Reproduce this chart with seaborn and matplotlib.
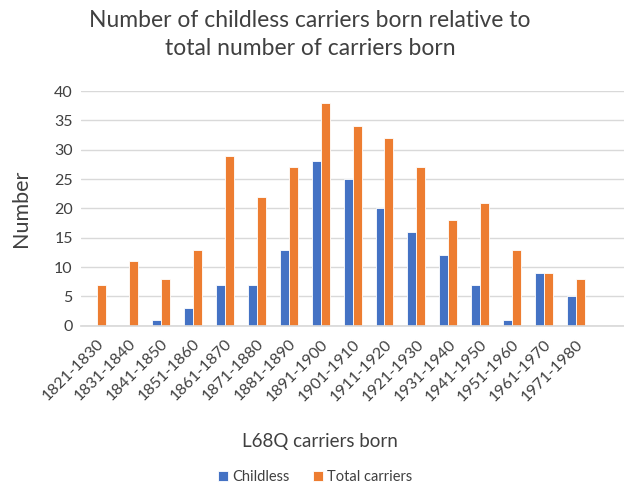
import matplotlib
matplotlib.use("Agg")
import matplotlib.pyplot as plt
import seaborn as sns
import pandas as pd

categories = ["1821-1830", "1831-1840", "1841-1850", "1851-1860", "1861-1870",
              "1871-1880", "1881-1890", "1891-1900", "1901-1910", "1911-1920",
              "1921-1930", "1931-1940", "1941-1950", "1951-1960", "1961-1970",
              "1971-1980"]
childless = [0, 0, 1, 3, 7, 7, 13, 28, 25, 20, 16, 12, 7, 1, 9, 5]
total_carriers = [7, 11, 8, 13, 29, 22, 27, 38, 34, 32, 27, 18, 21, 13, 9, 8]
series_names = ["Childless", "Total carriers"]
yticks = [0, 5, 10, 15, 20, 25, 30, 35, 40]

df = pd.DataFrame({
    "period": categories * 2,
    "value": childless + total_carriers,
    "series": [series_names[0]] * len(categories) + [series_names[1]] * len(categories),
})

sns.set_theme(style="white")
plt.rcParams["font.family"] = ["Lato", "DejaVu Sans"]

fig = plt.figure(figsize=(6.24, 4.87), dpi=100)
ax = fig.add_axes([0.130, 0.331, 0.870, 0.482])

sns.barplot(data=df, x="period", y="value", hue="series", order=categories,
            palette=["#4472C4", "#ED7D31"], saturation=1, width=0.56, dodge=True,
            edgecolor="white", linewidth=0.6, ax=ax, legend=True)

ax.set_xlim(-0.5, len(categories) + 0.5)
ax.set_ylim(0, 40)
ax.set_yticks(yticks)
ax.yaxis.grid(True, color="#d9d9d9", linewidth=1.0)
ax.set_axisbelow(True)
for s in ["top", "right", "left"]:
    ax.spines[s].set_visible(False)
ax.spines["bottom"].set_color("#d9d9d9")
ax.tick_params(axis="both", length=0, labelsize=11.5, colors="#404040", pad=6)
ax.tick_params(axis="x", pad=8)
plt.setp(ax.get_xticklabels(), rotation=45, ha="right", rotation_mode="anchor")

ax.set_ylabel("Number", fontsize=15.5, color="#404040")
ax.yaxis.set_label_coords(-0.093, 0.5)
ax.set_xlabel("L68Q carriers born", fontsize=13.5, color="#404040")
ax.xaxis.set_label_coords(0.44, -0.455)
fig.text(0.497, 0.98, "Number of childless carriers born relative to\ntotal number of carriers born",
         ha="center", va="top", fontsize=16.5, color="#404040", linespacing=1.4)

ax.get_legend().remove()
handles, labels = ax.get_legend_handles_labels()
fig.legend(handles, labels, loc="center", bbox_to_anchor=(0.505, 0.02), ncol=2, frameon=False,
           fontsize=10.5, handlelength=0.7, handleheight=0.7, handletextpad=0.3,
           columnspacing=1.6, labelcolor="#404040")

fig.savefig("out.png", dpi=100)
